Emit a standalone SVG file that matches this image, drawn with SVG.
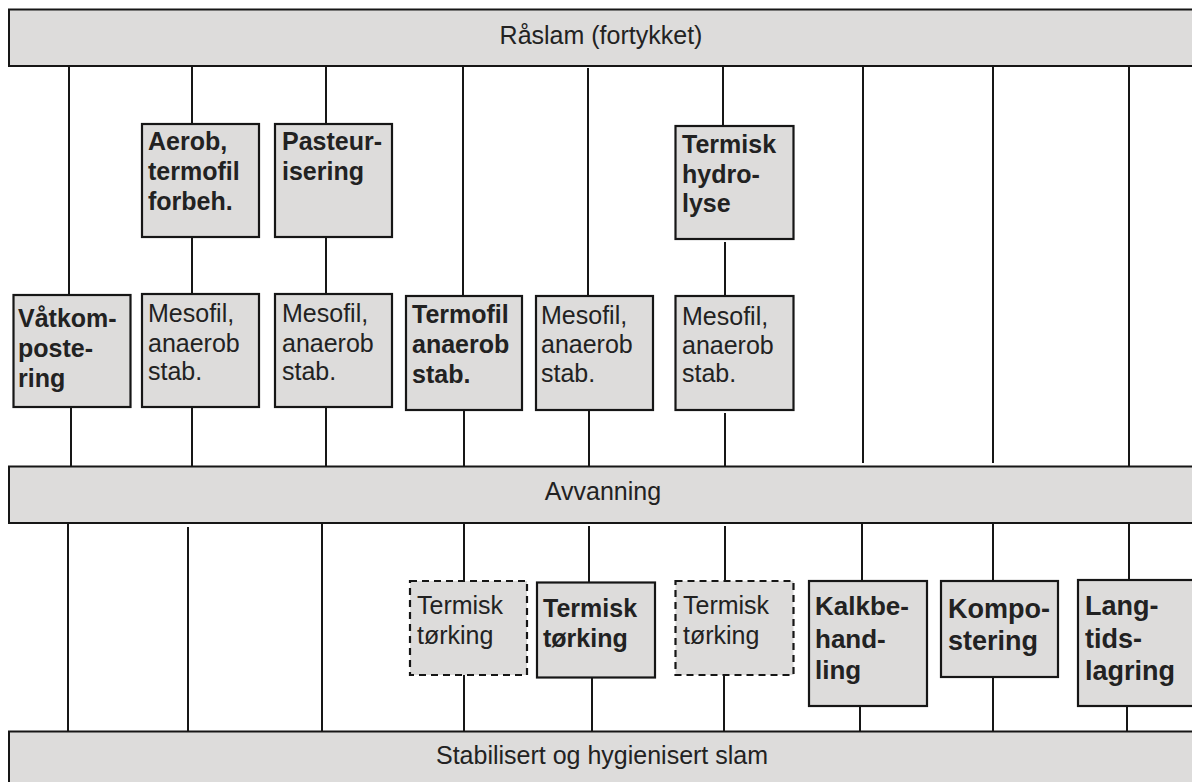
<svg xmlns="http://www.w3.org/2000/svg" width="1192" height="782" viewBox="0 0 1192 782">
<style>
.bar{fill:#dddcdb;stroke:#161616;stroke-width:2}
.box{fill:#dddcdb;stroke:#161616;stroke-width:2.2}
.dash{fill:#dddcdb;stroke:#161616;stroke-width:2.2;stroke-dasharray:7 5}
.ln{stroke:#161616;stroke-width:2;fill:none}
text{font-family:"Liberation Sans",Arial,sans-serif;fill:#222}
.t{font-size:25px}
.b{font-size:25px;font-weight:bold}
.bl{font-size:27px;font-weight:bold}
.c{text-anchor:middle}
</style>
<rect width="1192" height="782" fill="#ffffff"/>
<g id="connectors">
<line class="ln" x1="69" y1="66" x2="69" y2="295"/>
<line class="ln" x1="192" y1="66" x2="192" y2="124"/>
<line class="ln" x1="192" y1="237" x2="192" y2="294"/>
<line class="ln" x1="326" y1="66" x2="326" y2="124"/>
<line class="ln" x1="326" y1="237" x2="326" y2="294"/>
<line class="ln" x1="463" y1="66" x2="463" y2="296"/>
<line class="ln" x1="588" y1="68" x2="588" y2="296"/>
<line class="ln" x1="723" y1="64" x2="723" y2="126"/>
<line class="ln" x1="725" y1="242" x2="725" y2="296"/>
<line class="ln" x1="863" y1="66" x2="863" y2="463"/>
<line class="ln" x1="993" y1="66" x2="993" y2="463"/>
<line class="ln" x1="1129" y1="66" x2="1129" y2="467"/>
<line class="ln" x1="71" y1="407" x2="71" y2="467"/>
<line class="ln" x1="192" y1="407" x2="192" y2="467"/>
<line class="ln" x1="326" y1="407" x2="326" y2="467"/>
<line class="ln" x1="464" y1="406" x2="464" y2="467"/>
<line class="ln" x1="589" y1="410" x2="589" y2="467"/>
<line class="ln" x1="725" y1="413" x2="725" y2="471"/>
<line class="ln" x1="68" y1="523" x2="68" y2="736"/>
<line class="ln" x1="188" y1="527" x2="188" y2="737"/>
<line class="ln" x1="322" y1="523" x2="322" y2="735"/>
<line class="ln" x1="464" y1="523" x2="464" y2="581"/>
<line class="ln" x1="464" y1="675" x2="464" y2="732"/>
<line class="ln" x1="589" y1="526" x2="589" y2="583"/>
<line class="ln" x1="592" y1="678" x2="592" y2="732"/>
<line class="ln" x1="725" y1="526" x2="725" y2="581"/>
<line class="ln" x1="724" y1="675" x2="724" y2="732"/>
<line class="ln" x1="862" y1="520" x2="862" y2="581"/>
<line class="ln" x1="860" y1="698" x2="860" y2="732"/>
<line class="ln" x1="993" y1="520" x2="993" y2="581"/>
<line class="ln" x1="993" y1="677" x2="993" y2="735"/>
<line class="ln" x1="1129" y1="523" x2="1129" y2="580"/>
<line class="ln" x1="1127" y1="706" x2="1127" y2="737"/>
</g>
<g id="raaslam">
<rect class="bar" x="9" y="9.5" width="1195" height="56.5"/>
<text class="t c" x="601" y="44">Råslam (fortykket)</text>
</g>
<g id="aerob">
<rect class="box" x="142" y="124" width="117" height="113"/>
<text class="b" x="148" y="150">Aerob,</text>
<text class="b" x="148" y="180">termofil</text>
<text class="b" x="148" y="210">forbeh.</text>
</g>
<g id="pasteur">
<rect class="box" x="275" y="124" width="117" height="113"/>
<text class="b" x="282" y="150">Pasteur-</text>
<text class="b" x="282" y="180">isering</text>
</g>
<g id="hydrolyse">
<rect class="box" x="675.5" y="126" width="118" height="113"/>
<text class="b" x="682" y="153">Termisk</text>
<text class="b" x="682" y="183">hydro-</text>
<text class="b" x="682" y="212">lyse</text>
</g>
<g id="vatkompostering">
<rect class="box" x="13.5" y="295" width="117" height="112"/>
<text class="b" x="18" y="327">Våtkom-</text>
<text class="b" x="18" y="357">poste-</text>
<text class="b" x="18" y="387">ring</text>
</g>
<g id="mesofil1">
<rect class="box" x="142" y="294" width="117" height="113"/>
<text class="t" x="148" y="322">Mesofil,</text>
<text class="t" x="148" y="352">anaerob</text>
<text class="t" x="148" y="380">stab.</text>
</g>
<g id="mesofil2">
<rect class="box" x="275" y="294" width="117" height="113"/>
<text class="t" x="282" y="322">Mesofil,</text>
<text class="t" x="282" y="352">anaerob</text>
<text class="t" x="282" y="380">stab.</text>
</g>
<g id="termofil">
<rect class="box" x="406" y="296" width="116" height="114"/>
<text class="b" x="412" y="323">Termofil</text>
<text class="b" x="412" y="353">anaerob</text>
<text class="b" x="412" y="383">stab.</text>
</g>
<g id="mesofil3">
<rect class="box" x="536" y="296" width="117" height="114"/>
<text class="t" x="541" y="324">Mesofil,</text>
<text class="t" x="541" y="353">anaerob</text>
<text class="t" x="541" y="382">stab.</text>
</g>
<g id="mesofil4">
<rect class="box" x="675.5" y="296" width="118" height="114"/>
<text class="t" x="682" y="325">Mesofil,</text>
<text class="t" x="682" y="354">anaerob</text>
<text class="t" x="682" y="382">stab.</text>
</g>
<g id="avvanning">
<rect class="bar" x="9" y="466.5" width="1195" height="56.5"/>
<text class="t c" x="603" y="500">Avvanning</text>
</g>
<g id="torking1">
<rect class="dash" x="410" y="581" width="117" height="94"/>
<text class="t" x="417" y="614">Termisk</text>
<text class="t" x="417" y="644">tørking</text>
</g>
<g id="torking2">
<rect class="box" x="537" y="582.5" width="118" height="95"/>
<text class="b" x="543" y="617">Termisk</text>
<text class="b" x="543" y="647">tørking</text>
</g>
<g id="torking3">
<rect class="dash" x="675.5" y="581" width="118" height="94"/>
<text class="t" x="683" y="614">Termisk</text>
<text class="t" x="683" y="644">tørking</text>
</g>
<g id="kalk">
<rect class="box" x="809" y="581" width="118" height="125"/>
<text class="b" style="font-size:26px" x="815" y="615">Kalkbe-</text>
<text class="b" style="font-size:26px" x="815" y="648">hand-</text>
<text class="b" style="font-size:26px" x="815" y="679">ling</text>
</g>
<g id="kompostering">
<rect class="box" x="941" y="581" width="117" height="96"/>
<text class="bl" x="948" y="618">Kompo-</text>
<text class="bl" x="948" y="650">stering</text>
</g>
<g id="langtid">
<rect class="box" x="1078" y="580" width="130" height="126"/>
<text class="bl" x="1085" y="615">Lang-</text>
<text class="bl" x="1085" y="648">tids-</text>
<text class="bl" x="1085" y="680">lagring</text>
</g>
<g id="stabilisert">
<rect class="bar" x="9" y="731.5" width="1195" height="60"/>
<text class="t c" x="602" y="764">Stabilisert og hygienisert slam</text>
</g>
</svg>
